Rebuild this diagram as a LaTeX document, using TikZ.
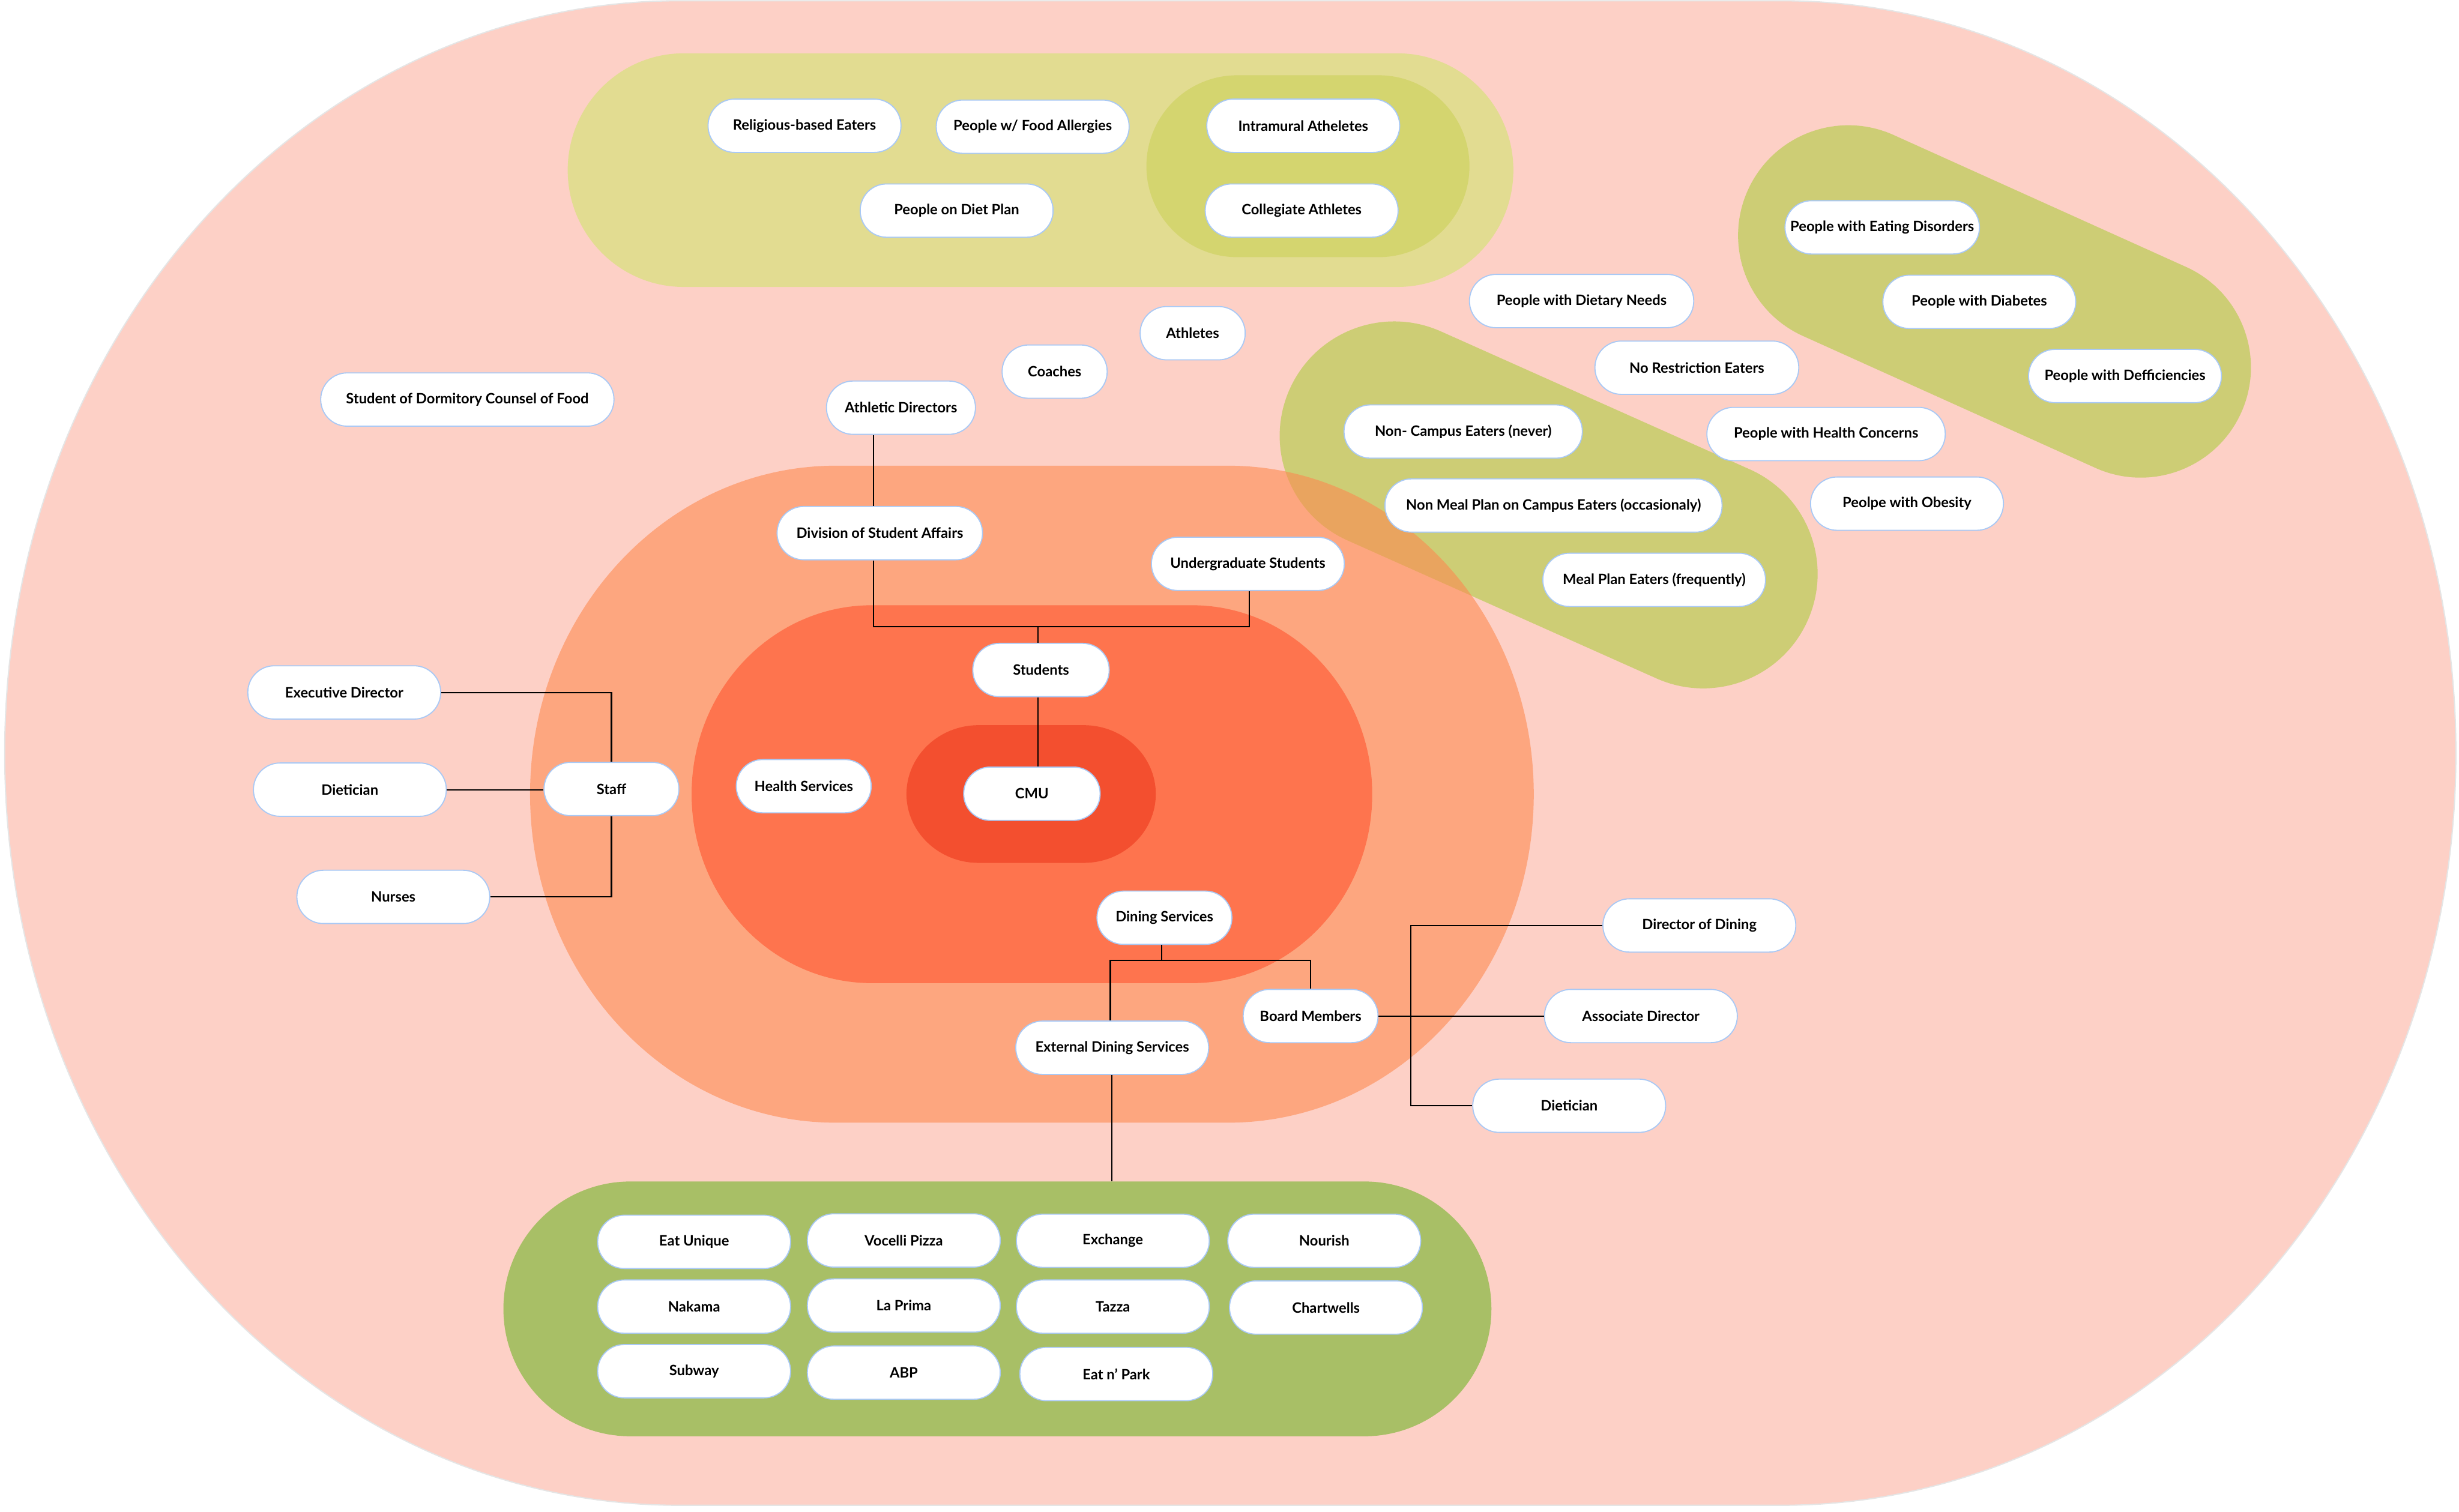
\documentclass[tikz,border=0pt]{standalone}
\usepackage{fontspec}
\setmainfont{Lato}
\definecolor{pinkbg}{HTML}{FDD0C6}
\definecolor{yellowA}{HTML}{E2DC91}
\definecolor{yellowB}{HTML}{D4D56F}
\definecolor{greenA}{HTML}{CDCD75}
\definecolor{greenB}{HTML}{A8BF66}
\definecolor{orangeA}{HTML}{FD8A51}
\definecolor{orangeB}{HTML}{FE744E}
\definecolor{redC}{HTML}{F34F2F}
\definecolor{nodeborder}{HTML}{A9C9F5}
% fill style, x1, y1, x2, y2, rx, ry
\newcommand{\stadfill}[7]{%
  \path[#1] ({#2+#6},#3) -- ({#4-#6},#3)
    arc[start angle=90,end angle=0,x radius=#6pt,y radius=#7pt] -- (#4,{#5-#7})
    arc[start angle=0,end angle=-90,x radius=#6pt,y radius=#7pt] -- ({#2+#6},#5)
    arc[start angle=270,end angle=180,x radius=#6pt,y radius=#7pt] -- (#2,{#3+#7})
    arc[start angle=180,end angle=90,x radius=#6pt,y radius=#7pt] -- cycle;}
\begin{document}
\begin{tikzpicture}[x=1pt,y=-1pt,
  pill/.style={draw=nodeborder, fill=white, line width=0.7pt, rounded corners=16.9pt,
    minimum height=34pt, minimum width=123pt, inner sep=0pt, align=center,
    font=\fontsize{9.1}{10}\selectfont\bfseries},
  conn/.style={draw=black, line width=0.8pt}]
\useasboundingbox (0,0) rectangle (1568,964);

% background regions
\stadfill{fill=pinkbg, draw=black!10, line width=0.8pt}{3}{0.5}{1566}{960}{430}{479.75}
\stadfill{fill=yellowA}{362}{34}{965}{183}{74}{74.5}
\stadfill{fill=yellowB}{731}{48}{937}{164}{58}{58}
\coordinate (ga1) at (889,278);
\coordinate (ga2) at (1086,366);
\coordinate (gb1) at (1178.6,150.2);
\coordinate (gb2) at (1365,234.3);
\draw[greenA, line width=146pt, line cap=round] (ga1) -- (ga2);
\draw[greenA, line width=140.6pt, line cap=round] (gb1) -- (gb2);
\stadfill{fill=orangeA, fill opacity=0.6}{338}{297}{978}{716}{195}{209.5}
\stadfill{fill=orangeB}{441}{386}{875}{627}{115}{120.5}
\stadfill{fill=redC}{578}{462.5}{737}{550.3}{46}{44}
\stadfill{fill=greenB}{321}{753.5}{951}{916}{81}{81.25}

% top group
\node[pill] (rel) at (513,80.2) {Religious-based Eaters};
\node[pill] (allerg) at (658.5,80.8) {People w/ Food Allergies};
\node[pill] (intra) at (831,80.2) {Intramural Atheletes};
\node[pill] (dietplan) at (610,134.3) {People on Diet Plan};
\node[pill] (coll) at (830,134.3) {Collegiate Athletes};

% loose nodes
\node[pill, minimum width=187pt] (dorm) at (298,254.8) {Student of Dormitory Counsel of Food};
\node[pill, minimum width=95pt] (athdir) at (574.5,260) {Athletic Directors};
\node[pill, minimum width=67pt] (coach) at (672.5,237) {Coaches};
\node[pill, minimum width=67pt] (athl) at (760.5,212.5) {Athletes};
\node[pill, minimum width=143pt] (dietneeds) at (1008.5,192) {People with Dietary Needs};
\node[pill, minimum width=130pt] (norest) at (1082,234.5) {No Restriction Eaters};
\node[pill, minimum width=152pt] (noncamp) at (933,275.2) {Non- Campus Eaters (never)};
\node[pill, minimum width=152pt] (hconc) at (1164.4,276.8) {People with Health Concerns};
\node[pill, minimum width=215pt] (nonmeal) at (990.6,322.4) {Non Meal Plan on Campus Eaters (occasionaly)};
\node[pill] (obes) at (1216,321.2) {Peolpe with Obesity};
\node[pill, minimum width=142pt] (mealplan) at (1054.8,369.8) {Meal Plan Eaters (frequently)};
\node[pill, minimum width=124pt] (eatdis) at (1200.2,145) {People with Eating Disorders};
\node[pill] (diab) at (1262.1,192.5) {People with Diabetes};
\node[pill] (defic) at (1355,239.8) {People with Defficiencies};

% central structure
\node[pill, minimum width=131pt] (dsa) at (561,340) {Division of Student Affairs};
\node[pill] (ugrad) at (795.7,359.6) {Undergraduate Students};
\node[pill, minimum width=87pt] (students) at (663.8,427.3) {Students};
\node[pill] (execdir) at (219.5,441.6) {Executive Director};
\node[pill] (dietL) at (223.1,503.6) {Dietician};
\node[pill, minimum width=86pt] (staff) at (389.9,503.2) {Staff};
\node[pill] (nurses) at (250.8,572) {Nurses};
\node[pill, minimum width=86pt] (hserv) at (512.5,501.4) {Health Services};
\node[pill, minimum width=87pt] (cmu) at (658,506.2) {CMU};
\node[pill, minimum width=86pt] (dining) at (742.5,585.3) {Dining Services};
\node[pill, minimum width=86pt] (board) at (835.7,648) {Board Members};
\node[pill] (ext) at (709.2,668.2) {External Dining Services};
\node[pill] (dirdin) at (1083.6,590.2) {Director of Dining};
\node[pill] (assoc) at (1046.3,648) {Associate Director};
\node[pill] (dietR) at (1000.6,705.2) {Dietician};

% food grid
\node[pill] (f1) at (442.6,792) {Eat Unique};
\node[pill] (f2) at (576.3,791.1) {Vocelli Pizza};
\node[pill] (f3) at (709.6,791.3) {Exchange};
\node[pill] (f4) at (844.4,791.3) {Nourish};
\node[pill] (f5) at (442.6,833.3) {Nakama};
\node[pill] (f6) at (576.3,832.6) {La Prima};
\node[pill] (f7) at (709.6,833.3) {Tazza};
\node[pill] (f8) at (845.5,833.9) {Chartwells};
\node[pill] (f9) at (442.6,874.5) {Subway};
\node[pill] (f10) at (576.3,875.4) {ABP};
\node[pill] (f11) at (711.8,876.3) {Eat n’ Park};

% connectors
\coordinate (sj) at (662,399.5);
\coordinate (dj) at (740.7,612.4);
\coordinate (gtop) at (709,753.5);
\coordinate (bx) at (899.5,650);
\draw[conn] ([xshift=-17.5pt]athdir.south) -- ([xshift=-4pt]dsa.north);
\draw[conn] ([xshift=-4pt]dsa.south) |- (sj) -| ([xshift=0.8pt]ugrad.south);
\draw[conn] (sj) -- ([xshift=-1.8pt]students.north);
\draw[conn] ([xshift=-1.8pt]students.south) -- ([xshift=4pt]cmu.north);
\draw[conn] (execdir.east) -| (staff.north);
\draw[conn] (dietL.east) -- (dietL.east -| staff.west);
\draw[conn] (staff.south) |- (nurses.east);
\draw[conn] ([xshift=-1.8pt]dining.south) -- (dj);
\draw[conn] ([xshift=-1.2pt]ext.north) |- (dj) -| (board.north);
\draw[conn] ([xshift=-0.2pt]ext.south) -- (gtop);
\draw[conn] (board.east) -- (board.east -| assoc.west);
\draw[conn] (dirdin.west) -- (dirdin.west -| bx) -- (dietR.west -| bx) -- (dietR.west);
\end{tikzpicture}
\end{document}
